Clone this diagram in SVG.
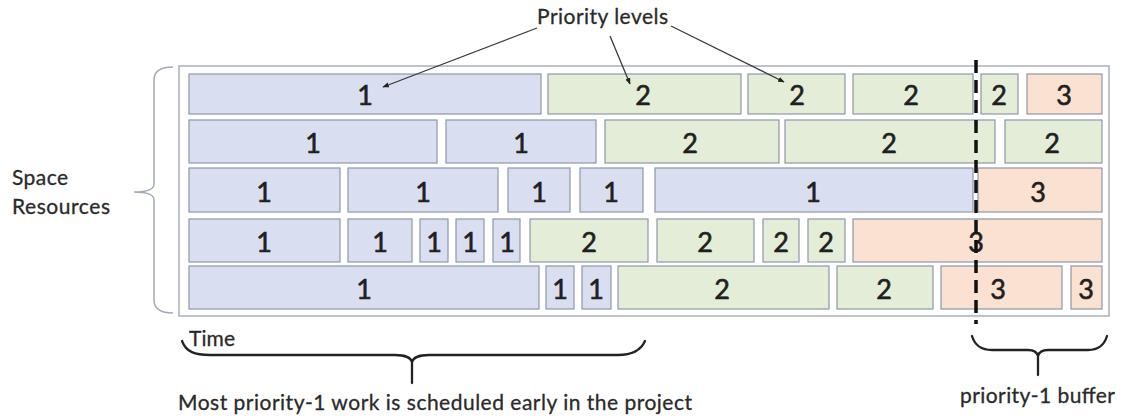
<svg xmlns="http://www.w3.org/2000/svg" width="1122" height="418" viewBox="0 0 1122 418">
  <style>
    .frame { fill: #ffffff; stroke: #a9b0bf; stroke-width: 1.5; }
    .p1 rect { fill: #d9dff1; stroke: #8e97a8; stroke-width: 1.2; }
    .p2 rect { fill: #e3edd8; stroke: #8e97a8; stroke-width: 1.2; }
    .p3 rect { fill: #fbe1d2; stroke: #8e97a8; stroke-width: 1.2; }
    .task text { font-family: Lato, "Open Sans", "Liberation Sans", sans-serif; font-size: 27px; fill: #1f1f1f; stroke: #1f1f1f; stroke-width: 0.6; text-anchor: middle; }
    .lbl { font-family: Lato, "Open Sans", "Liberation Sans", sans-serif; font-size: 21px; fill: #2a2a2a; stroke: #2a2a2a; stroke-width: 0.3; }
    .ptr { stroke: #3a3a3a; stroke-width: 1.3; fill: none; marker-end: url(#head); }
    .brace { fill: none; stroke: #222222; stroke-width: 2.3; stroke-linecap: round; }
    .vbrace { fill: none; stroke: #a3a9bb; stroke-width: 1.5; }
  </style>
  <defs>
    <marker id="head" viewBox="0 0 10 10" refX="9" refY="5" markerWidth="5" markerHeight="5" orient="auto">
      <path d="M0,1 L10,5 L0,9 z" fill="#222222"/>
    </marker>
  </defs>

  <rect width="1122" height="418" fill="#ffffff"/>

  <!-- schedule frame -->
  <rect id="frame" class="frame" x="179" y="66" width="930" height="250"/>

  <!-- row 1 -->
  <g id="r1a" class="task p1"><rect x="189" y="74" width="352" height="40"/><text x="365" y="105">1</text></g>
  <g id="r1b" class="task p2"><rect x="548" y="74" width="193" height="40"/><text x="643" y="105">2</text></g>
  <g id="r1c" class="task p2"><rect x="748" y="74" width="97" height="40"/><text x="797" y="105">2</text></g>
  <g id="r1d" class="task p2"><rect x="853" y="74" width="120" height="40"/><text x="911" y="105">2</text></g>
  <g id="r1e" class="task p2"><rect x="981" y="74" width="37" height="40"/><text x="999" y="105">2</text></g>
  <g id="r1f" class="task p3"><rect x="1027" y="74" width="75" height="40"/><text x="1064" y="105">3</text></g>

  <!-- row 2 -->
  <g id="r2a" class="task p1"><rect x="189" y="120" width="248" height="43"/><text x="313" y="153">1</text></g>
  <g id="r2b" class="task p1"><rect x="446" y="120" width="150" height="43"/><text x="521" y="153">1</text></g>
  <g id="r2c" class="task p2"><rect x="605" y="120" width="174" height="43"/><text x="690" y="153">2</text></g>
  <g id="r2d" class="task p2"><rect x="785" y="120" width="210" height="43"/><text x="889" y="153">2</text></g>
  <g id="r2e" class="task p2"><rect x="1005" y="120" width="97" height="43"/><text x="1052" y="153">2</text></g>

  <!-- row 3 -->
  <g id="r3a" class="task p1"><rect x="189" y="168" width="151" height="44"/><text x="264" y="201.5">1</text></g>
  <g id="r3b" class="task p1"><rect x="348" y="168" width="150" height="44"/><text x="423" y="201.5">1</text></g>
  <g id="r3c" class="task p1"><rect x="508" y="168" width="62" height="44"/><text x="539" y="201.5">1</text></g>
  <g id="r3d" class="task p1"><rect x="580" y="168" width="63" height="44"/><text x="611" y="201.5">1</text></g>
  <g id="r3e" class="task p1"><rect x="655" y="168" width="318" height="44"/><text x="813" y="201.5">1</text></g>
  <g id="r3f" class="task p3"><rect x="978" y="168" width="124" height="44"/><text x="1038" y="201.5">3</text></g>

  <!-- row 4 -->
  <g id="r4a" class="task p1"><rect x="189" y="219" width="151" height="43"/><text x="264" y="252">1</text></g>
  <g id="r4b" class="task p1"><rect x="348" y="219" width="64" height="43"/><text x="380" y="252">1</text></g>
  <g id="r4c" class="task p1"><rect x="420" y="219" width="28" height="43"/><text x="434" y="252">1</text></g>
  <g id="r4d" class="task p1"><rect x="456" y="219" width="28" height="43"/><text x="470" y="252">1</text></g>
  <g id="r4e" class="task p1"><rect x="493" y="219" width="27" height="43"/><text x="507" y="252">1</text></g>
  <g id="r4f" class="task p2"><rect x="530" y="219" width="118" height="43"/><text x="589" y="252">2</text></g>
  <g id="r4g" class="task p2"><rect x="657" y="219" width="97" height="43"/><text x="705" y="252">2</text></g>
  <g id="r4h" class="task p2"><rect x="763" y="219" width="36" height="43"/><text x="781" y="252">2</text></g>
  <g id="r4i" class="task p2"><rect x="808" y="219" width="37" height="43"/><text x="826" y="252">2</text></g>
  <g id="r4j" class="task p3"><rect x="853" y="219" width="249" height="43"/><text x="976" y="252">3</text></g>

  <!-- row 5 -->
  <g id="r5a" class="task p1"><rect x="189" y="266" width="350" height="43"/><text x="364" y="299">1</text></g>
  <g id="r5b" class="task p1"><rect x="546" y="266" width="28" height="43"/><text x="560" y="299">1</text></g>
  <g id="r5c" class="task p1"><rect x="582" y="266" width="29" height="43"/><text x="596" y="299">1</text></g>
  <g id="r5d" class="task p2"><rect x="618" y="266" width="211" height="43"/><text x="722" y="299">2</text></g>
  <g id="r5e" class="task p2"><rect x="837" y="266" width="96" height="43"/><text x="884" y="299">2</text></g>
  <g id="r5f" class="task p3"><rect x="941" y="266" width="121" height="43"/><text x="998" y="299">3</text></g>
  <g id="r5g" class="task p3"><rect x="1071" y="266" width="31" height="43"/><text x="1086" y="299">3</text></g>

  <!-- priority-1 buffer cut line -->
  <line id="cutline" x1="976" y1="60" x2="976" y2="324" stroke="#111111" stroke-width="3.5" stroke-dasharray="13 7"/>

  <!-- annotations -->
  <g id="priority-label"><text class="lbl" x="537" y="24" textLength="131">Priority levels</text></g>
  <g id="connectors">
    <line class="ptr" x1="537" y1="28" x2="383" y2="87"/>
    <line class="ptr" x1="610" y1="36" x2="630" y2="84"/>
    <line class="ptr" x1="671" y1="26" x2="784" y2="82"/>
  </g>

  <g id="space-axis">
    <text class="lbl" x="12" y="185" textLength="56">Space</text>
    <text class="lbl" x="12" y="214" textLength="98">Resources</text>
    <path class="vbrace" d="M173,67 Q154,67 154,80 L154,184 Q154,192 134,192 Q154,192 154,200 L154,300 Q154,313 173,313"/>
  </g>

  <g id="time-axis">
    <text class="lbl" x="189" y="346" textLength="46">Time</text>
    <path class="brace" d="M182,341 C186,352 195,355 210,355 L395,355 C405,355 411,358 412,362 C413,358 419,355 429,355 L618,355 C633,355 641,350 645,341 M412,362 L412,383"/>
    <text class="lbl" x="178" y="410" textLength="514">Most priority-1 work is scheduled early in the project</text>
  </g>

  <g id="buffer-axis">
    <path class="brace" d="M972,336 C975,346 982,350 992,350 L1028,350 C1034,350 1037,352 1038,356 C1039,352 1042,350 1048,350 L1088,350 C1098,350 1104,346 1107,336 M1038,356 L1038,375"/>
    <text class="lbl" x="960" y="403" textLength="155">priority-1 buffer</text>
  </g>
</svg>
